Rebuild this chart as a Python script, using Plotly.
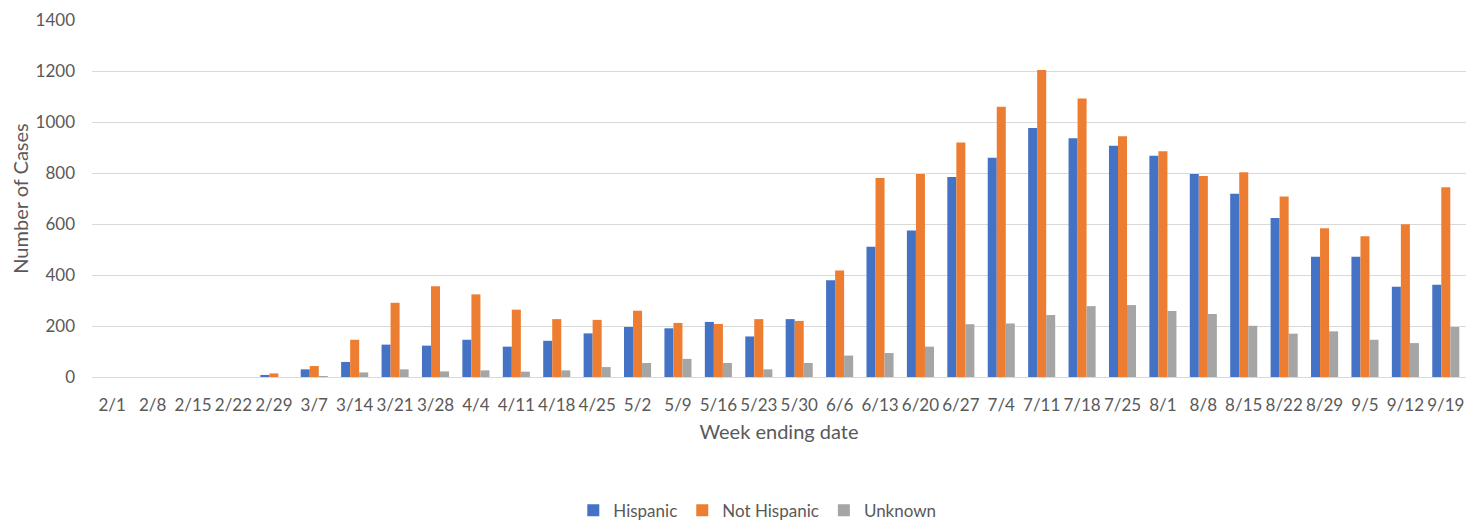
import plotly.graph_objects as go

weeks = ["2/1", "2/8", "2/15", "2/22", "2/29", "3/7", "3/14", "3/21", "3/28", "4/4",
         "4/11", "4/18", "4/25", "5/2", "5/9", "5/16", "5/23", "5/30", "6/6", "6/13",
         "6/20", "6/27", "7/4", "7/11", "7/18", "7/25", "8/1", "8/8", "8/15", "8/22",
         "8/29", "9/5", "9/12", "9/19"]

hispanic = [0, 0, 0, 0, 8, 30, 59, 127, 123, 146,
            119, 142, 171, 196, 191, 216, 159, 227, 379, 511,
            575, 784, 860, 976, 936, 907, 868, 796, 719, 624,
            472, 472, 354, 362]

not_hispanic = [0, 0, 0, 0, 14, 43, 146, 291, 356, 324,
                264, 227, 224, 260, 212, 208, 227, 220, 418, 780,
                796, 920, 1060, 1204, 1092, 944, 885, 788, 803, 708,
                583, 552, 599, 744]

unknown = [0, 0, 0, 0, 0, 1, 18, 30, 22, 26,
           21, 26, 39, 55, 71, 55, 30, 55, 84, 94,
           119, 207, 210, 243, 278, 282, 259, 247, 201, 170,
           179, 146, 133, 196]

series = [("Hispanic", hispanic, "#4472C4"),
          ("Not Hispanic", not_hispanic, "#ED7D31"),
          ("Unknown", unknown, "#A5A5A5")]

font_family = "Lato, 'Open Sans', sans-serif"
text_color = "#595959"

fig = go.Figure()
for name, vals, color in series:
    fig.add_trace(go.Bar(x=weeks, y=vals, name=name, marker_color=color,
                         marker_line_width=0))

fig.update_layout(
    width=1475, height=512,
    margin=dict(l=84, r=17, t=12, b=143, autoexpand=False),
    paper_bgcolor="white", plot_bgcolor="white",
    barmode="group", bargap=0.33, bargroupgap=0,
    font=dict(family=font_family, color=text_color, size=17),
    showlegend=True,
    legend=dict(orientation="h", xref="container", yref="container",
                x=0.508, y=0.018, xanchor="center", yanchor="middle",
                font=dict(size=17, color=text_color), itemwidth=30,
                traceorder="normal"),
)

fig.update_xaxes(
    type="category", showgrid=False, showline=False, zeroline=False,
    automargin=False,
    tickfont=dict(size=17, color=text_color), ticklabelstandoff=16,
    title=dict(text="Week ending date", font=dict(size=20, color=text_color), standoff=10),
)
fig.update_yaxes(
    range=[0, 1400], dtick=200, showgrid=True, gridcolor="#D9D9D9", gridwidth=1,
    zeroline=True, zerolinecolor="#D9D9D9", zerolinewidth=1, showline=False,
    automargin=False,
    tickfont=dict(size=17, color=text_color), ticklabelstandoff=16,
    title=dict(text="Number of Cases", font=dict(size=20, color=text_color), standoff=6),
)

fig.write_html("out.html")
